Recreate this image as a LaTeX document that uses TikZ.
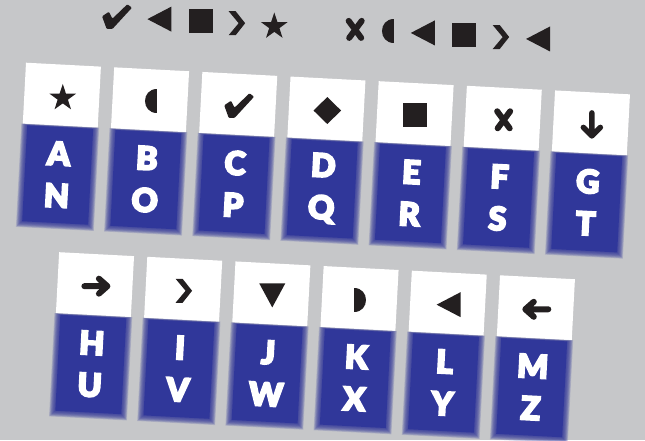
\documentclass[tikz,border=0pt]{standalone}
\usepackage{fontspec}
\usepackage{tikz}
\newfontfamily\keyfont{Lato Black}[FakeBold=5]
\definecolor{keyblue}{HTML}{30379A}
\definecolor{keygrey}{HTML}{C6C7C9}
\definecolor{inkblack}{HTML}{231F20}
% one key: symbol cell on top, blurred blue cell with two letters below
\newcommand{\keytile}[4]{%
  \begin{scope}[shift={#1}]
    \node[symcell] (w#2) at (37.5,30.5) {};
    \foreach \k in {0,...,9}
      \fill[keyblue, fill opacity=.16] (-1.5+.6*\k,61+.15*\k) rectangle (76.5-.6*\k,164.5-.6*\k);
    \fill[keyblue] (4.5,62.5) rectangle (70.5,158.5);
    \node[keycell] (k#2) at (37.5,110) {#2\\#3};
    \pic at (38.5,32) {#4};
  \end{scope}}

\begin{document}
\begin{tikzpicture}[
  x=1pt, y=-1pt,
  symcell/.style={fill=white, minimum width=75pt, minimum height=61pt, inner sep=0pt, transform shape},
  keycell/.style={text=white, font=\keyfont\fontsize{32.5}{42}\selectfont, align=center, inner sep=0pt, transform shape},
  sym star/.pic={\fill[inkblack, shift={(0,1.3)}] (-90:14) -- (-54:5.4) -- (-18:14) -- (18:5.4) -- (54:14)
      -- (90:5.4) -- (126:14) -- (162:5.4) -- (198:14) -- (234:5.4) -- cycle;},
  sym halfl/.pic={\fill[inkblack] (6,-12) .. controls (-10,-12) and (-10,12) .. (6,12) -- cycle;},
  sym halfr/.pic={\fill[inkblack] (-6,-12) .. controls (10,-12) and (10,12) .. (-6,12) -- cycle;},
  sym check/.pic={\fill[inkblack, scale=1.15, rounded corners=1pt] (-13,-0.5) -- (-7,-4.5) -- (-4,1.5) -- (9,-11)
      -- (13,-8) -- (-4,10.5) -- (-9,10.5) -- cycle;},
  sym diamond/.pic={\fill[inkblack] (0,-13.5) -- (13.8,0) -- (0,13.5) -- (-13.8,0) -- cycle;},
  sym square/.pic={\fill[inkblack] (-12,-12) rectangle (12,12);},
  sym cross/.pic={\draw[inkblack, line width=6pt, line cap=round] (-6.5,-8.5) -- (6,8.5) (6.5,-8.5) -- (-6,8.5);},
  sym down/.pic={\draw[inkblack, line width=5.5pt, line cap=round, line join=round]
      (0,-11.5) -- (0,11) (-8.5,3) -- (0,11.5) -- (8.5,3);},
  sym right/.pic={\draw[inkblack, line width=6pt, line cap=round, line join=round]
      (-11.5,0) -- (11,0) (3,-7.5) -- (11.5,0) -- (3,7.5);},
  sym left/.pic={\draw[inkblack, line width=6pt, line cap=round, line join=round]
      (11.5,0) -- (-11,0) (-3,-7.5) -- (-11.5,0) -- (-3,7.5);},
  sym chevron/.pic={\fill[inkblack] (-8.5,-12) -- (-1.5,-12) -- (8,0) -- (-1.5,12) -- (-8.5,12) -- (1.5,0) -- cycle;},
  sym tleft/.pic={\fill[inkblack] (-12,0) -- (12,-12.5) -- (12,12.5) -- cycle;},
  sym tdown/.pic={\fill[inkblack] (-13,-12) -- (13,-12) -- (0,12) -- cycle;},
]
\fill[keygrey] (0,0) rectangle (645,440);
\useasboundingbox (0,0) rectangle (645,440);
\begin{scope}[shift={(26,62.7)}, rotate=-3]
% coded words
\pic at (88.5,-50.5) {sym check};
\pic at (130.9,-50.5) {sym tleft};
\pic at (172.3,-50.5) {sym square};
\pic at (208.8,-50.5) {sym chevron};
\pic at (246.0,-50.5) {sym star};
\pic at (327.0,-50.5) {sym cross};
\pic at (359.7,-50.5) {sym halfl};
\pic at (394.7,-50.5) {sym tleft};
\pic at (436.1,-50.5) {sym square};
\pic at (473.2,-50.5) {sym chevron};
\pic at (510.1,-50.5) {sym tleft};
% first row of keys
\keytile{(0,0)}{A}{N}{sym star}
\keytile{(88.3,0)}{B}{O}{sym halfl}
\keytile{(176.6,0)}{C}{P}{sym check}
\keytile{(264.9,0)}{D}{Q}{sym diamond}
\keytile{(353.2,0)}{E}{R}{sym square}
\keytile{(441.5,0)}{F}{S}{sym cross}
\keytile{(529.8,0)}{G}{T}{sym down}
% second row of keys
\keytile{(43,187.5)}{H}{U}{sym right}
\keytile{(131.3,187.5)}{I}{V}{sym chevron}
\keytile{(219.6,187.5)}{J}{W}{sym tdown}
\keytile{(307.9,187.5)}{K}{X}{sym halfr}
\keytile{(396.2,187.5)}{L}{Y}{sym tleft}
\keytile{(484.5,187.5)}{M}{Z}{sym left}
\end{scope}
\end{tikzpicture}
\end{document}
